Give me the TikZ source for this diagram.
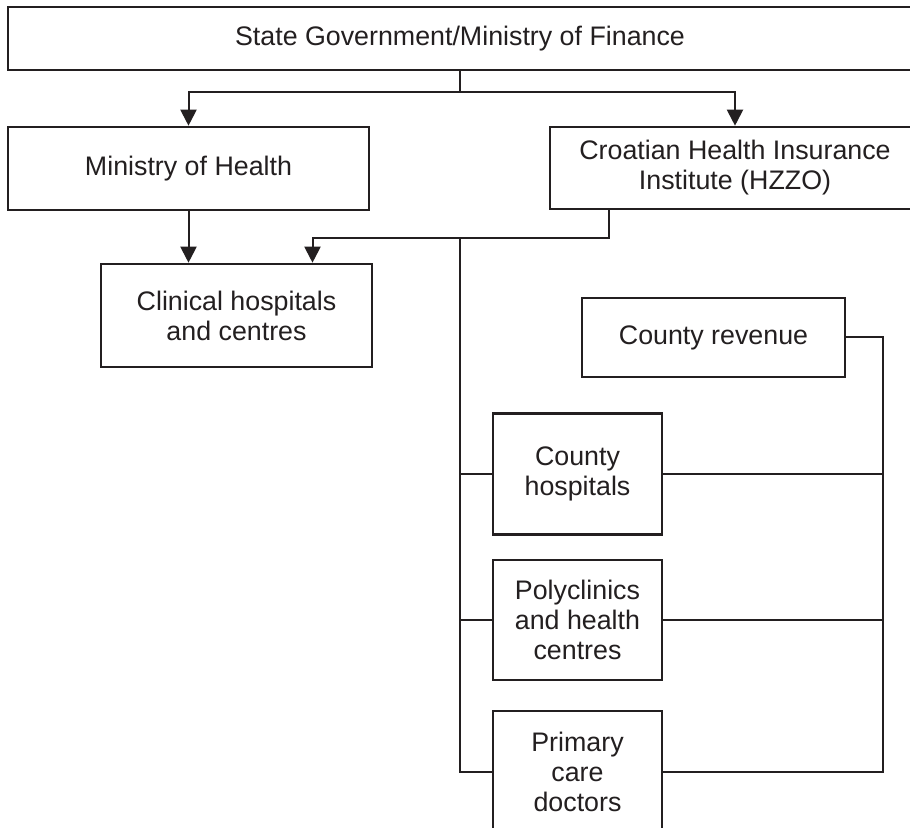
\documentclass[tikz,border=0pt]{standalone}
\usepackage{fontspec}
\setmainfont{Liberation Sans}
\definecolor{inkline}{RGB}{35, 31, 32}
\usepackage{tikz}
\usetikzlibrary{arrows.meta, positioning, calc}
\newcommand{\orgfont}{\fontsize{13.4pt}{15pt}\selectfont}
\tikzset{
  orgbox/.style={draw=inkline, text=inkline, line width=1.3pt, align=center, font=\orgfont, inner sep=0pt},
  link/.style={draw=inkline, line width=1pt},
  arr/.style={link, -{Triangle[length=8pt, width=8pt]}}
}

\begin{document}
\begin{tikzpicture}[x=0.5pt, y=-0.5pt]
  % frame of the reference (cut at the right and bottom)
  \path[use as bounding box, fill=white] (0,0) rectangle (910,828);
  \clip (0,0) rectangle (910,828);

  \node[orgbox, minimum width=452pt, minimum height=31.5pt] (state) at (460,38.5) {State Government/Ministry of Finance};
  \node[orgbox, minimum width=180.5pt, minimum height=41.5pt] (moh) at (188.5,168.5) {Ministry of Health};
  \node[orgbox, minimum width=185pt, minimum height=41pt] (hzzo) at (735,168) {Croatian Health Insurance\\Institute (HZZO)};
  \node[orgbox, minimum width=135.5pt, minimum height=51.5pt] (clin) at (236.5,315.5) {Clinical hospitals\\and centres};
  \node[orgbox, minimum width=131.5pt, minimum height=39.5pt] (rev) at (713.5,337.5) {County revenue};
  \node[orgbox, minimum width=84.5pt, minimum height=60.5pt] (cthosp) at (577.5,474) {County\\hospitals};
  \node[orgbox, minimum width=84.5pt, minimum height=60pt] (poly) at (577.5,620) {Polyclinics\\and health\\centres};
  \node[orgbox, minimum width=84.5pt, minimum height=60.5pt] (prim) at (577.5,771.5) {Primary\\care\\doctors};

  % state funds
  \coordinate (split) at (460,92);
  \draw[link] (state.south) -- (split);
  \draw[arr] (split) -| (moh.north);
  \draw[arr] (split) -| (hzzo.north);
  \draw[arr] (moh.south) -- (moh.south |- clin.north);

  % HZZO payments
  \coordinate (fork) at (460,238);
  \draw[arr] ([xshift=30pt]hzzo.south west) |- (fork) -| ([xshift=38pt]clin.north);
  \draw[link] (fork) |- (prim.west);
  \draw[link] (cthosp.west -| fork) -- (cthosp.west);
  \draw[link] (poly.west -| fork) -- (poly.west);

  % county revenue
  \coordinate (rbus) at (883,771.5);
  \draw[link] (rev.east) -| (rbus) -- (prim.east);
  \draw[link] (cthosp.east) -- (cthosp.east -| rbus);
  \draw[link] (poly.east) -- (poly.east -| rbus);
\end{tikzpicture}
\end{document}
